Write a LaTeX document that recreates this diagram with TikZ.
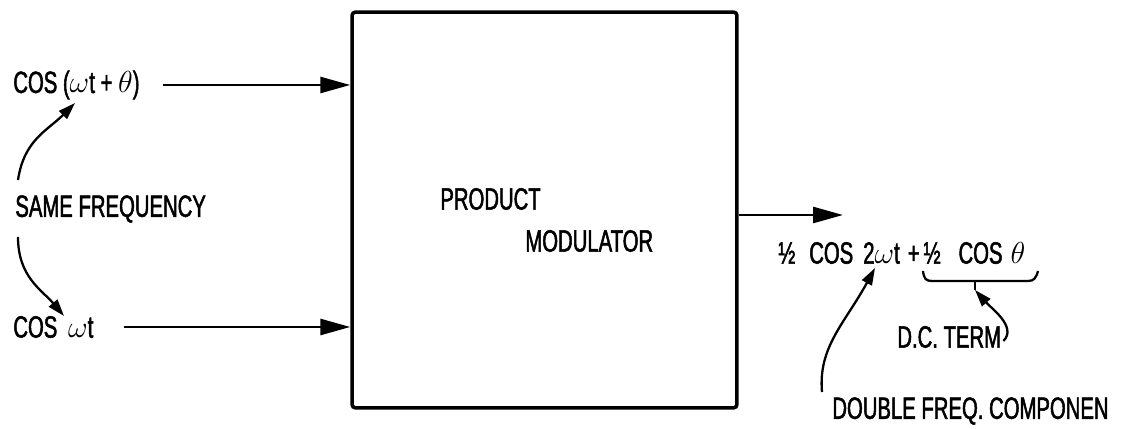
\documentclass[tikz,border=0pt]{standalone}
\usepackage{fontspec}
\setmainfont{Liberation Sans}[FakeStretch=0.66, FakeBold=1.6]
\usetikzlibrary{arrows.meta, positioning}

\begin{document}
\begin{tikzpicture}[
  x=0.02cm, y=0.02cm,
  lbl/.style={inner sep=0pt, anchor=west, font=\fontsize{17.5pt}{20pt}\selectfont},
  modBox/.style={rectangle, rounded corners=2pt, draw=black, line width=2pt,
                 minimum width=7.7cm, minimum height=7.92cm},
  arr/.style={-{Triangle[length=0.6cm, width=0.32cm]}, line width=1.5pt},
  bendArr/.style={-{Triangle[length=0.34cm, width=0.22cm]}, line width=1.3pt}
]
\useasboundingbox (0,0) rectangle (1126,429);
\node[modBox] (mod) at (544.5,219) {};
\node[lbl] (prod) at (440,230) {PRODUCT};
\node[lbl] (modl) at (525,188) {MODULATOR};
\node[lbl] (inTop) at (13,344) {COS ($\omega$t + $\theta$)};
\node[lbl] (same) at (15,220) {SAME FREQUENCY};
\node[lbl] (inBot) at (13,102) {COS \,$\omega$t};
\node[lbl] (res) at (778,176) {½\hspace{0.28cm}COS\hspace{0.2cm}2$\omega$t\hspace{0.16cm}+\hspace{0.08cm}½\hspace{0.36cm}COS\hspace{0.16cm}$\theta$};
\node[lbl] (dc) at (897,92) {D.C. TERM};
\node[lbl] (dbl) at (832,18) {DOUBLE FREQ. COMPONEN};
\coordinate (wTop) at (75,326);
\coordinate (wBot) at (64,113);
\coordinate (outTip) at (843,214);
\coordinate (brMid) at (975,139);
\coordinate (dblTip) at (875,161);
\draw[arr] ([xshift=0.46cm]inTop.east) -- (inTop.east -| mod.west);
\draw[arr] ([xshift=0.6cm]inBot.east) -- (inBot.east -| mod.west);
\draw[arr] (mod.east |- outTip) -- (outTip);
\draw[bendArr] ([shift={(3,15)}]same.north west) .. controls +(6,40) and +(-28,-28) .. (wTop);
\draw[bendArr] ([shift={(3,-14)}]same.south west) .. controls +(0,-40) and +(-22,26) .. (wBot);
\draw[line width=1.3pt] (923,158) .. controls (924,150) and (926,148) .. (932,148) -- (1028,148)
  .. controls (1034,148) and (1036,151) .. (1038,158);
\draw[line width=1.3pt] (975,148) -- (brMid);
\draw[bendArr] ([shift={(2,-4)}]dc.east) .. controls +(14,14) and +(16,-18) .. (brMid);
\draw[bendArr] ([shift={(-10,5)}]dbl.north west) .. controls +(-4,45) and +(-30,-55) .. (dblTip);
\end{tikzpicture}
\end{document}
